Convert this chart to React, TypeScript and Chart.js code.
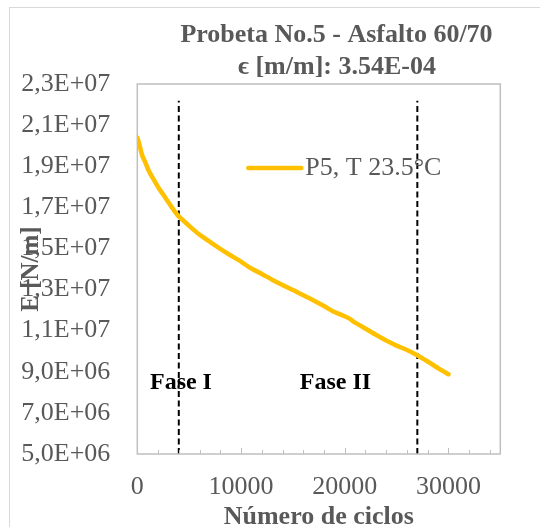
import React, { useEffect, useRef } from "react";
import { Chart, registerables } from "chart.js";

Chart.register(...registerables);

// ---- data ----
const cycles = [0, 150, 450, 800, 1100, 1500, 2060, 2500, 3030, 3500, 4000, 4500, 5000, 5920, 7000, 8000, 8940, 10000, 10870, 12000, 13000, 14000, 15000, 15700, 16330, 17000, 18000, 18900, 20000, 20500, 21000, 22100, 23000, 24000, 25000, 26000, 26940, 28000, 29000, 30000];
const modulus = [20400000, 20150000, 19560000, 19150000, 18780000, 18420000, 17940000, 17620000, 17220000, 16880000, 16560000, 16330000, 16100000, 15700000, 15320000, 14980000, 14680000, 14360000, 14060000, 13760000, 13480000, 13220000, 12980000, 12800000, 12640000, 12470000, 12200000, 11930000, 11700000, 11570000, 11390000, 11070000, 10800000, 10520000, 10270000, 10060000, 9820000, 9500000, 9180000, 8880000];

const phaseBoundaries = [4000, 27000];
const phaseLineTop = 22190000;
const phaseLabels = ["Fase I", "Fase II"];
const phaseLabelX = [4210, 19110];
const phaseLabelY = 8470000;

const titleLines = ["Probeta No.5 - Asfalto 60/70", "ϵ [m/m]: 3.54E-04"];
const seriesLabel = "P5, T 23.5°C";
const xTitle = "Número de ciclos";
const yTitle = "E [N/m]";

const xMin = 0;
const xMax = 35000;
const xStep = 2000;
const xLabelStep = 10000;
const yMin = 5000000;
const yMax = 23000000;
const yStep = 2000000;

// ---- styles ----
const SERIF = "'Liberation Serif', 'Times New Roman', 'DejaVu Serif', serif";
const GRAY = "#595959";
const LINE_COLOR = "#FFC000";

const fmtY = (v: number) => {
  const e = Math.floor(Math.log10(v) + 1e-9);
  const m = v / Math.pow(10, e);
  return m.toFixed(1).replace(".", ",") + "E+" + String(e).padStart(2, "0");
};

const decorPlugin = {
  id: "decor",
  beforeDraw(chart: any) {
    const ctx = chart.ctx;
    ctx.save();
    ctx.strokeStyle = "#d9d9d9";
    ctx.lineWidth = 1;
    ctx.strokeRect(9.5, 7.5, 560, 560);
    ctx.restore();
  },
  afterDraw(chart: any) {
    const ctx = chart.ctx;
    const { left, right, top, bottom } = chart.chartArea;
    const xs = chart.scales.x;
    const ys = chart.scales.y;
    ctx.save();

    // plot border
    ctx.strokeStyle = "#bfbfbf";
    ctx.lineWidth = 1.5;
    ctx.strokeRect(left, top, right - left, bottom - top);

    // inside tick marks on x axis
    ctx.lineWidth = 1;
    ctx.beginPath();
    for (const t of xs.ticks) {
      const px = Math.round(xs.getPixelForValue(t.value)) + 0.5;
      const len = t.value % xLabelStep === 0 ? 6 : 4;
      ctx.moveTo(px, bottom);
      ctx.lineTo(px, bottom - len);
    }
    ctx.stroke();

    // title
    ctx.fillStyle = GRAY;
    ctx.textAlign = "center";
    ctx.textBaseline = "middle";
    ctx.font = `bold 26px ${SERIF}`;
    ctx.fillText(titleLines[0], 336.5, 35);
    ctx.fillText(titleLines[1], 337, 67);

    // axis titles
    ctx.fillText(xTitle, (left + right) / 2, 517);
    ctx.save();
    ctx.translate(32, (top + bottom) / 2);
    ctx.rotate(-Math.PI / 2);
    ctx.font = `bold 25px ${SERIF}`;
    ctx.fillText(yTitle, 0, 0);
    ctx.restore();

    // legend (inside plot)
    const ds = chart.data.datasets[0];
    const ly = top + 84;
    const lx = left + 111;
    ctx.strokeStyle = ds.borderColor;
    ctx.lineWidth = 4.5;
    ctx.lineCap = "round";
    ctx.beginPath();
    ctx.moveTo(lx, ly);
    ctx.lineTo(lx + 53, ly);
    ctx.stroke();
    ctx.fillStyle = GRAY;
    ctx.textAlign = "left";
    ctx.font = `26px ${SERIF}`;
    ctx.fillText(ds.label, lx + 57, ly);

    // phase labels
    ctx.fillStyle = "#000000";
    ctx.textAlign = "center";
    ctx.font = `bold 24px ${SERIF}`;
    phaseLabels.forEach((lab, i) => {
      ctx.fillText(lab, xs.getPixelForValue(phaseLabelX[i]), ys.getPixelForValue(phaseLabelY));
    });

    ctx.restore();
  },
};

export default function App() {
  const ref = useRef<HTMLCanvasElement | null>(null);

  useEffect(() => {
    if (!ref.current) return;
    const mainData = cycles.map((c, i) => ({ x: c, y: modulus[i] }));
    const phaseSets = phaseBoundaries.map((b) => ({
      label: "phase",
      data: [
        { x: b, y: yMin },
        { x: b, y: phaseLineTop },
      ],
      borderColor: "#000000",
      borderWidth: 2,
      borderDash: [6, 3.5],
      pointRadius: 0,
      fill: false,
    }));

    const chart = new Chart(ref.current, {
      type: "line",
      data: {
        datasets: [
          {
            label: seriesLabel,
            data: mainData,
            borderColor: LINE_COLOR,
            borderWidth: 4.5,
            pointRadius: 0,
            tension: 0.2,
            fill: false,
            borderCapStyle: "round",
            borderJoinStyle: "round",
          } as any,
          ...phaseSets,
        ],
      },
      options: {
        animation: false,
        responsive: false,
        devicePixelRatio: 1,
        layout: { padding: { left: 0, right: 39.7, top: 84, bottom: 0 } },
        plugins: {
          legend: { display: false },
          title: { display: false },
          tooltip: { enabled: false },
        },
        scales: {
          x: {
            type: "linear",
            min: xMin,
            max: xMax,
            afterBuildTicks: (s: any) => {
              const t: { value: number }[] = [];
              for (let v = xMin; v < xMax; v += xStep) t.push({ value: v });
              s.ticks = t;
            },
            afterFit: (s: any) => {
              s.height = 73;
            },
            grid: { display: false, drawTicks: false },
            border: { display: false },
            ticks: {
              autoSkip: false,
              maxRotation: 0,
              padding: 18,
              color: GRAY,
              font: { family: SERIF, size: 26 },
              callback: (v: any) => (Number(v) % xLabelStep === 0 ? String(v) : ""),
            },
          },
          y: {
            type: "linear",
            min: yMin,
            max: yMax,
            afterFit: (s: any) => {
              s.width = 137.3;
            },
            grid: { display: false, drawTicks: false },
            border: { display: false },
            ticks: {
              stepSize: yStep,
              padding: 27,
              color: GRAY,
              font: { family: SERIF, size: 26 },
              callback: (v: any) => fmtY(Number(v)),
            },
          },
        },
      },
      plugins: [decorPlugin],
    } as any);
    return () => chart.destroy();
  }, []);

  return (
    <div style={{ position: "absolute", left: 0, top: 0, width: 540, height: 527, background: "#fff" }}>
      <canvas ref={ref} width={540} height={527} style={{ display: "block" }} />
    </div>
  );
}
